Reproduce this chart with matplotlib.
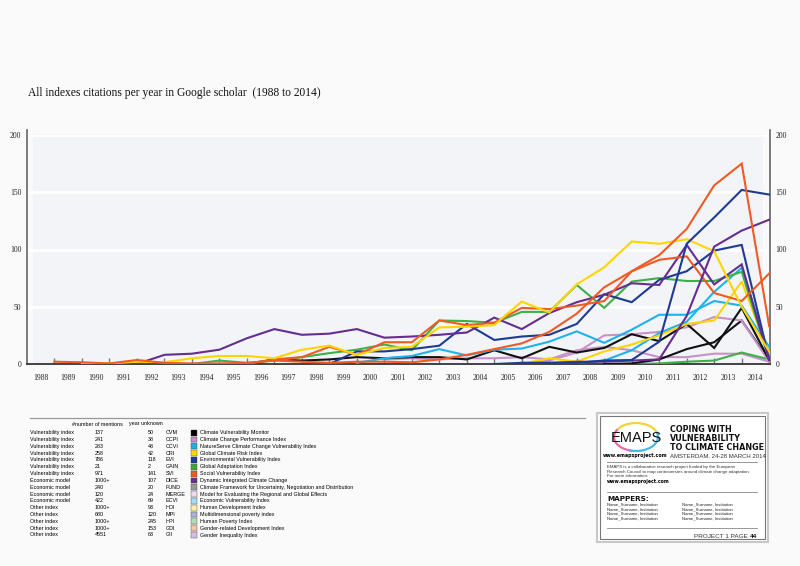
import numpy as np
import matplotlib
matplotlib.use('Agg')
import matplotlib.pyplot as plt
from matplotlib.patches import Rectangle, Arc
from matplotlib import font_manager

N = np.nan
years = list(range(1988, 2015))

# citations per year (two lines per colour)
orange_a = [2, 1.5, 0.5, 3.5, 1, 0.5, 0.5, 1, 3, 2, 1, 2, 2, 1.5, 4, 8, 13, 18, 28, 44, 67, 81, 95, 118, 156, 175, 33]
orange_b = [N] * 7 + [0, 4, 6, 15, 8, 19, 19, 38, 34, 36, 49, 48, 51, 55, 81, 91, 94, 62, 55, 79]
yellow_a = [N, 0, 0.5, 2, 1.5, 5, 7, 7, 5, 12.5, 16, 8, 14, 15, 32, 32.5, 34, 54.5, 45, 69.5, 84.5, 107, 105, 109, 98.5, 50, 11]
yellow_b = [N] * 17 + [0, 5, 2, 11, 17, 25, 35, 38, 72, 9]
purple_a = [N] * 17 + [1, 1, 2, 2, 3, 4, 42, 102.5, 116.5, 126]
purple_b = [N] * 3 + [0, 8, 9, 12.5, 22.5, 30.5, 25.5, 26.5, 30.5, 23, 24, 25.5, 27.5, 40.5, 30.5, 44.5, 54, 60.5, 70.5, 69, 104, 69.5, 87, 3.5]
dblue_a = [N] * 16 + [0, 1, 1, 1, 3, 3.5, 19.5, 105, 128, 152, 148]
dblue_b = [N] * 10 + [0, 11, 11, 13, 16, 35, 21, 24, 25.5, 35, 61, 54, 73.5, 81, 99, 104, 4]
green_a = [N] * 5 + [0, 3, 1, 3, 6, 9.5, 12.5, 17, 12, 38, 37.5, 36, 45.5, 45.5, 69, 49, 72, 75, 72.5, 72.5, 80.5, 4]
green_b = [N] * 20 + [0, 0, 0.5, 2, 3, 10, 4]
cyan_a = [N] * 11 + [1, 5, 7, 13, 7.5, 12.5, 13.5, 19.5, 28.5, 18.5, 30, 43, 43, 55, 51, 15]
cyan_b = [N] * 18 + [0, 1, 3, 12, 27, 37, 63, 84, 8]
black_a = [N] * 7 + [0, 4, 3, 4, 6, 5, 6, 6, 4, 12, 5, 15, 10, 14, 26, 20, 35, 14, 49, 3.5]
black_b = [N] * 20 + [0, 0.5, 4, 13, 19, 38, 3.5]
pink_a = [N] * 17 + [0, 3, 10, 25, 26, 28, 32, 41, 38, 2]
pink_b = [N] * 12 + [4, 5, 4, 5, 5, 6, 4, 12, 15, 12, 6, 6, 9, 9, 2]

ORANGE, YELLOW, PURPLE, DBLUE = '#f15a24', '#ffd500', '#662d91', '#1f3a93'
GREEN, CYAN, BLACK, PINK = '#3db049', '#1eb3ec', '#111111', '#c792c9'

series = [
    (pink_b, PINK), (green_b, GREEN), (black_b, BLACK), (pink_a, PINK),
    (black_a, BLACK), (cyan_a, CYAN), (cyan_b, CYAN), (yellow_b, YELLOW),
    (green_a, GREEN), (dblue_b, DBLUE), (purple_b, PURPLE), (orange_b, ORANGE),
    (yellow_a, YELLOW), (purple_a, PURPLE), (dblue_a, DBLUE), (orange_a, ORANGE),
]

# legend table
types = ['Vulnerability index'] * 7 + ['Economic model'] * 4 + ['Other index'] * 5
mentions = ['137', '241', '283', '258', '786', '21', '971', '1000+', '240', '120', '422',
            '1000+', '680', '1000+', '1000+', '4551']
unknown = ['50', '38', '48', '42', '118', '2', '141', '107', '20', '24', '69', '93', '120', '245', '153', '63']
abbrevs = ['CVM', 'CCPI', 'CCVI', 'CRI', 'EVI', 'GAIN', 'SVI', 'DICE', 'FUND', 'MERGE', 'ECVI',
           'HDI', 'MPI', 'HPI', 'GDI', 'GII']
names = ['Climate Vulnerability Monitor', 'Climate Change Performance Index',
         'NatureServe Climate Change Vulnerability Index', 'Global Climate Risk Index',
         'Environmental Vulnerability Index', 'Global Adaptation Index', 'Social Vulnerability Index',
         'Dynamic Integrated Climate Change',
         'Climate Framework for Uncertainty, Negotiation and Distribution',
         'Model for Evaluating the Regional and Global Effects', 'Economic Vulnerability Index',
         'Human Development Index', 'Multidimensional poverty index', 'Human Poverty Index',
         'Gender-related Development Index', 'Gender Inequality Index']
swatches = ['#000000', '#c98ec6', '#1cb0ea', '#ffd800', '#1b3c92', '#3aaa35', '#f05a22', '#6a2d8e',
            '#9a9a9a', '#efdaec', '#a3dcf5', '#fff0a0', '#a9b4dc', '#b3ddb3', '#f9c4aa', '#d7c0df']

W, H = 800, 566


def px(x, y):
    return x / W, 1 - y / H


available = {f.name for f in font_manager.fontManager.ttflist}
NARROW = 'Liberation Sans'
for cand in ['Liberation Sans Narrow', 'DejaVu Sans Condensed']:
    if cand in available:
        NARROW = cand
        break
SERIF = 'Liberation Serif'

fig = plt.figure(figsize=(8, 5.66), dpi=100, facecolor='#fafafa')
ax = fig.add_axes([27 / W, 1 - 364 / H, 743 / W, 229 / H])
ax.set_facecolor('#fafafa')
ax.add_patch(Rectangle((0.008, 0), 0.983, 1.006, transform=ax.transAxes,
                       facecolor='#f2f4f7', edgecolor='none', zorder=0, clip_on=False))

for vals, col in series:
    ax.plot(years, np.array(vals, dtype=float), color=col, lw=1.5, solid_joinstyle='miter', zorder=3)

ax.set_xlim(1987.0, 2014.03)
ax.set_ylim(0, 200)
ax.set_yticks([0, 50, 100, 150, 200])
ax.yaxis.grid(True, color='white', lw=2)
ax.set_axisbelow(True)
ax.tick_params(axis='y', length=0, pad=4, labelsize=5.5, labelright=True, labelcolor='#222')
for lab in ax.get_yticklabels():
    lab.set_family(SERIF)

ax.set_xticks(years)
ax.set_xticks([y - 0.5 for y in years], minor=True)
ax.set_xticklabels([])
ax.set_xticklabels([str(y) for y in years], minor=True, fontsize=5.5, family=SERIF, color='#222')
ax.tick_params(axis='x', which='major', direction='in', length=4, width=1, color='#777')
ax.tick_params(axis='x', which='minor', length=0, pad=7)

ax.spines['top'].set_visible(False)
for side in ['left', 'right']:
    ax.spines[side].set_color('#666')
    ax.spines[side].set_linewidth(1.2)
    ax.spines[side].set_bounds(0, 204)
ax.spines['bottom'].set_color('#333')
ax.spines['bottom'].set_linewidth(1.3)

fig.text(*px(28, 93), 'All indexes citations per year in Google scholar  (1988 to 2014)',
         fontsize=8.3, family=SERIF, va='center', color='#111')

# legend table
fig.add_artist(plt.Line2D([30 / W, 585 / W], [1 - 418 / H] * 2, color='#999', lw=0.9))
fs = 3.9
fig.text(*px(72, 424), '#number of mentions', fontsize=fs, family=NARROW, va='center')
fig.text(*px(129, 424), 'year unknown', fontsize=fs, family=NARROW, va='center')
for i in range(len(types)):
    y = 432.7 + i * 6.82
    fig.text(*px(30, y), types[i], fontsize=fs, family=NARROW, va='center')
    fig.text(*px(95, y), mentions[i], fontsize=fs, family=NARROW, va='center')
    fig.text(*px(148, y), unknown[i], fontsize=fs, family=NARROW, va='center')
    fig.text(*px(166, y), abbrevs[i], fontsize=fs, family=NARROW, va='center')
    fig.add_artist(Rectangle(px(191, y + 2.9), 6 / W, 5.8 / H, transform=fig.transFigure,
                             facecolor=swatches[i], edgecolor='#444', lw=0.3))
    fig.text(*px(200, y), names[i], fontsize=fs, family=NARROW, va='center')

# EMAPS box
fig.add_artist(Rectangle(px(597, 542), 171 / W, 129 / H, transform=fig.transFigure,
                         facecolor='white', edgecolor='#c8c8c8', lw=1.5))
fig.add_artist(Rectangle(px(600, 539), 165 / W, 123 / H, transform=fig.transFigure,
                         facecolor='white', edgecolor='#777', lw=0.8))
for (t1, t2, col) in [(20, 160, '#f6d13a'), (150, 260, '#e56aa8'), (250, 380, '#45b9e6')]:
    fig.add_artist(Arc(px(636, 437), 44 / W, 28 / H, theta1=t1, theta2=t2,
                       transform=fig.transFigure, color=col, lw=1.6))
fig.text(*px(636, 438), 'EMAPS', fontsize=10.5, family=NARROW, ha='center', va='center',
         color='#111')
fig.text(*px(635, 456), 'www.emapsproject.com', fontsize=3.4, family='DejaVu Sans',
         weight='bold', ha='center', va='center')
for j, line in enumerate(['COPING WITH', 'VULNERABILITY', 'TO CLIMATE CHANGE']):
    fig.text(*px(670, 430 + j * 8.5), line, fontsize=5.8, family='DejaVu Sans', weight='bold',
             va='center', color='#111')
fig.text(*px(670, 456), 'AMSTERDAM, 24-28 MARCH 2014', fontsize=4.3, family='Liberation Sans',
         va='center', color='#333')
for yy in (462, 492, 528):
    fig.add_artist(plt.Line2D([607 / W, 757 / W], [1 - yy / H] * 2, color='#888', lw=0.6))
para = ['EMAPS is a collaborative research project funded by the European',
        'Research Council to map controversies around climate change adaptation.',
        'For more information:']
for j, line in enumerate(para):
    fig.text(*px(607, 467 + j * 4.7), line, fontsize=3.2, family='Liberation Sans', va='center',
             color='#333')
fig.text(*px(607, 481.5), 'www.emapsproject.com', fontsize=3.3, family='DejaVu Sans',
         weight='bold', va='center')
fig.text(*px(607, 499), 'MAPPERS:', fontsize=5.2, family='DejaVu Sans', weight='bold',
         va='center', color='#111')
for j in range(4):
    for xx in (607, 682):
        fig.text(*px(xx, 504.3 + j * 4.7), 'Name_Surname, Institution', fontsize=3.1,
                 family=NARROW, va='center', color='#222')
fig.text(*px(750, 537), 'PROJECT 1 PAGE ', fontsize=4.6, family='Liberation Sans', ha='right',
         va='center', color='#333')
fig.text(*px(750, 537), '44', fontsize=4.6, family='Liberation Sans', weight='bold',
         ha='left', va='center', color='#111')

fig.savefig('out.png', dpi=100, facecolor=fig.get_facecolor())
